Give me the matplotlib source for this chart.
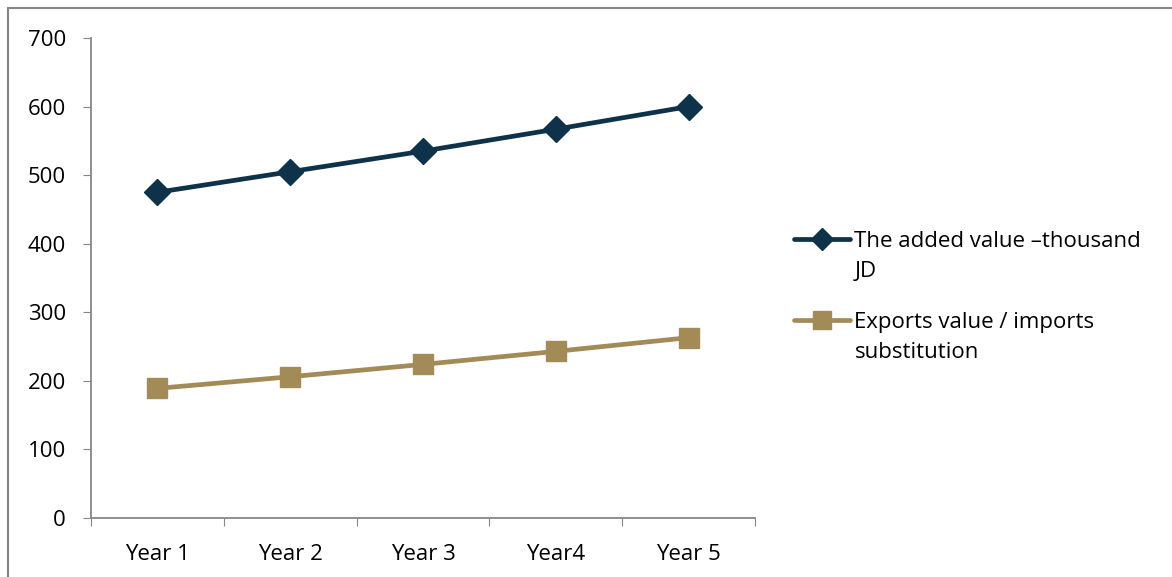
import matplotlib
matplotlib.use("Agg")
import matplotlib.pyplot as plt
from matplotlib.patches import Rectangle

categories = ["Year 1", "Year 2", "Year 3", "Year4", "Year 5"]
added_value = [475, 505, 535, 567, 600]
exports_value = [189, 206, 224, 243, 263]
series_labels = ["The added value \u2013thousand\nJD", "Exports value / imports\nsubstitution"]
y_ticks = [0, 100, 200, 300, 400, 500, 600, 700]

plt.rcParams["font.family"] = ["Open Sans", "DejaVu Sans"]
FS = 16

W, H = 1172, 577
fig = plt.figure(figsize=(W / 100, H / 100), dpi=100)
ax = fig.add_axes([91 / W, 1 - 518 / H, (755 - 91) / W, (518 - 38) / H])

navy = "#0E3249"
gold = "#A38B58"
grey = "#868686"

x = list(range(len(categories)))
l1, = ax.plot(x, added_value, color=navy, lw=3.4, marker="D", ms=13, mec=navy,
              mfc=navy, solid_capstyle="round")
l2, = ax.plot(x, exports_value, color=gold, lw=3.4, marker="s", ms=15, mec=gold,
              mfc=gold, solid_capstyle="round")

ax.set_xlim(-0.5, len(categories) - 0.5)
ax.set_ylim(0, 700)
ax.set_yticks(y_ticks)
ax.set_yticklabels([str(v) for v in y_ticks], fontsize=FS)

# Category labels centred between boundary ticks
ax.set_xticks([i - 0.5 for i in range(len(categories) + 1)])
ax.set_xticklabels([])
ax.set_xticks(x, minor=True)
ax.set_xticklabels(categories, minor=True, fontsize=FS)
ax.tick_params(axis="x", which="minor", length=0, pad=19)
ax.tick_params(axis="x", which="major", length=6, color=grey, direction="out")
ax.tick_params(axis="y", length=6, color=grey, direction="out", pad=12)

for side in ("top", "right"):
    ax.spines[side].set_visible(False)
for side in ("left", "bottom"):
    ax.spines[side].set_color(grey)
    ax.spines[side].set_linewidth(1.3)

# Legend: handle sits beside the first line of each wrapped label
first_lines = [s.split("\n")[0] for s in series_labels]
leg = ax.legend([l1, l2], first_lines, loc="upper left",
                bbox_to_anchor=(794 / W, 1 - 231 / H),
                bbox_transform=fig.transFigure, frameon=False, fontsize=FS,
                handlelength=2.5, handletextpad=0.22, labelspacing=2.7,
                markerscale=0.85, borderpad=0, borderaxespad=0)
fig.canvas.draw()
for t, lab in zip(leg.get_texts(), series_labels):
    bb = t.get_window_extent()
    fig.text(bb.x0 / W, (bb.y0 - 30) / H, lab.split("\n")[1], fontsize=FS,
             va="bottom", ha="left")

# Outer chart frame
fig.patches.append(Rectangle((8 / W, -0.05), 1.1, 1 - 8 / H + 0.05,
                             transform=fig.transFigure, fill=False,
                             edgecolor=grey, linewidth=1.5, zorder=0))

fig.savefig("out.png", dpi=100)
